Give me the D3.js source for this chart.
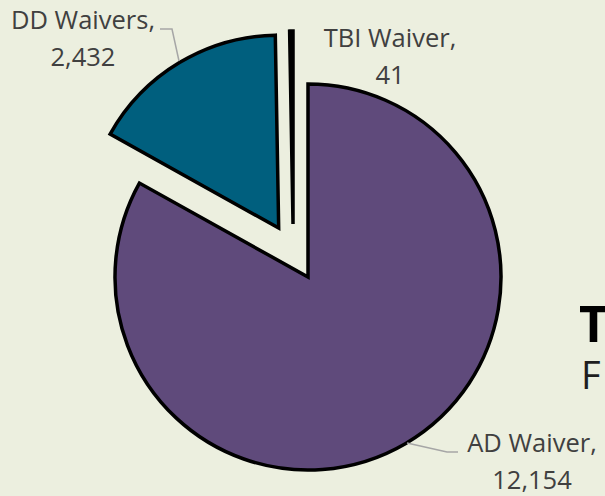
<!DOCTYPE html>
<html>
<head>
<meta charset="utf-8">
<script src="https://cdn.jsdelivr.net/npm/d3@7"></script>
<style>
  html, body { margin: 0; padding: 0; background: #ecefdf; }
  svg { display: block; }
  text { font-family: "Open Sans", "Noto Sans", sans-serif; }
</style>
</head>
<body>
<svg id="vis"></svg>
<script>
const categories = ["AD Waiver", "DD Waivers", "TBI Waiver"];
const values = [12154, 2432, 41];
const colors = ["#5f4a7b", "#005f7e", "#005f7e"];

const width = 605, height = 496;
const cx = 308, cy = 277, radius = 193;

// how far each slice is pulled out (px), optional direction override (radians, 0 = up)
const explode = [
    {dist: 0},
    {dist: 57},
    {dist: 55, angle: 2 * Math.PI - 0.276}
];

// label placement: centre x, first baseline y
const labels = [
    {x: 532, y: 452, leader: [[407, 443], [447, 452], [458, 452]]},
    {x: 83, y: 29, leader: [[160, 29], [172, 29], [179, 61]]},
    {x: 390, y: 47, leader: null}
];

const fmt = d3.format(",");

const svg = d3.select("#vis")
    .attr("width", width)
    .attr("height", height)
    .attr("viewBox", [0, 0, width, height]);

svg.append("rect")
    .attr("width", width)
    .attr("height", height)
    .attr("fill", "#ecefdf");

const data = categories.map((c, i) => ({name: c, value: values[i], i: i}));

const pie = d3.pie()
    .sort(null)
    .value(d => d.value)
    .startAngle(0)
    .endAngle(2 * Math.PI);

const arc = d3.arc()
    .innerRadius(0)
    .outerRadius(radius);

const arcs = pie(data);

const offset = d => {
    const e = explode[d.data.i];
    const a = e.angle !== undefined ? e.angle : (d.startAngle + d.endAngle) / 2;
    return [Math.sin(a) * e.dist, -Math.cos(a) * e.dist];
};

svg.append("g")
    .attr("transform", `translate(${cx},${cy})`)
    .selectAll("path")
    .data(arcs)
    .join("path")
    .attr("transform", d => `translate(${offset(d)})`)
    .attr("d", arc)
    .attr("fill", d => colors[d.data.i])
    .attr("stroke", "#000")
    .attr("stroke-width", 3.5)
    .attr("stroke-linejoin", "miter");

// leader lines
svg.append("g")
    .selectAll("path")
    .data(labels.filter(l => l.leader))
    .join("path")
    .attr("d", l => d3.line()(l.leader))
    .attr("fill", "none")
    .attr("stroke", "#a6a6a6")
    .attr("stroke-width", 1.5);

// data labels
const lab = svg.append("g")
    .selectAll("text")
    .data(arcs)
    .join("text")
    .attr("text-anchor", "middle")
    .attr("font-size", 25.5)
    .attr("fill", "#404040");

lab.append("tspan")
    .attr("x", d => labels[d.data.i].x)
    .attr("y", d => labels[d.data.i].y)
    .text(d => d.data.name + ",");

lab.append("tspan")
    .attr("x", d => labels[d.data.i].x)
    .attr("y", d => labels[d.data.i].y + 37)
    .text(d => fmt(d.data.value));

// title, cut by the right edge
svg.append("text")
    .attr("x", 579)
    .attr("y", 342)
    .attr("font-size", 50)
    .attr("font-weight", "bold")
    .attr("fill", "#000")
    .text("T");

svg.append("text")
    .attr("x", 581)
    .attr("y", 389)
    .attr("font-size", 38)
    .attr("fill", "#1e1e1e")
    .text("F");
</script>
</body>
</html>
